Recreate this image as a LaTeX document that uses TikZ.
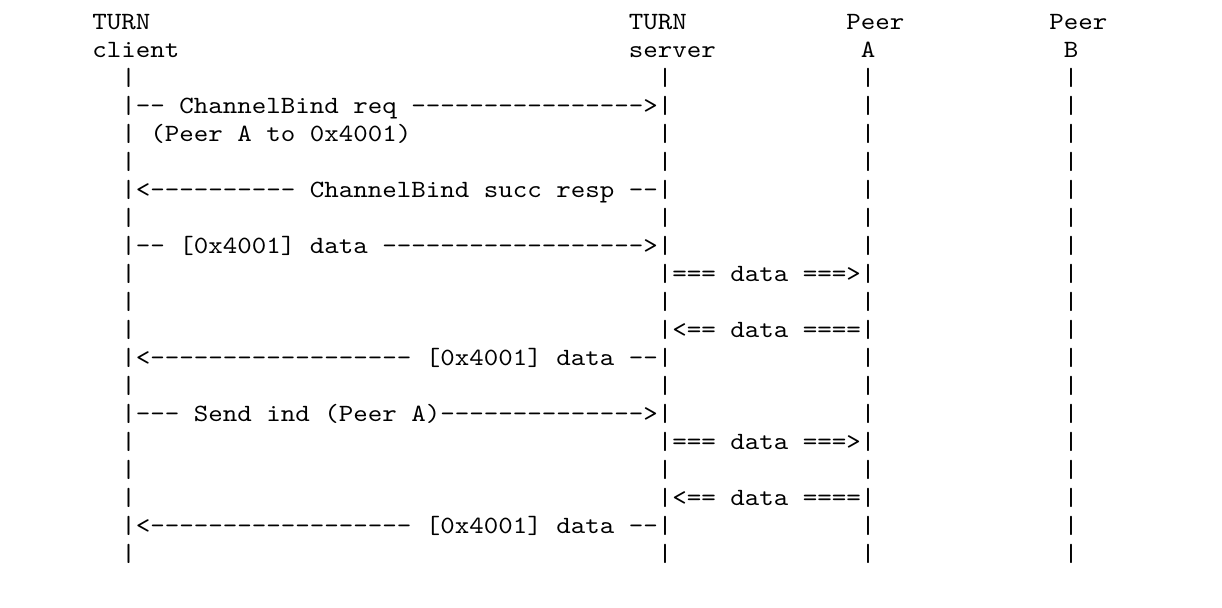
\documentclass[tikz,border=0pt]{standalone}
\usepackage{graphicx}
\usetikzlibrary{positioning}

% monospace cell, stretched to the column pitch (7.25pt)
\newcommand{\asc}[1]{%
  \edef\asccw{\the\fontcharwd\font`\x}%
  \pgfmathsetmacro{\ascx}{7.25/\asccw}%
  \scalebox{\ascx}[1.24]{\spaceskip=\asccw\relax\xspaceskip=\asccw\relax#1}}

\begin{document}
\begin{tikzpicture}[
  x=0.5pt, y=-0.5pt,
  every node/.style={font=\fontsize{10}{12}\selectfont\ttfamily, inner sep=0pt, anchor=base west},
  msg/.style={text=black},
  bar/.style={text=black}
]
  \useasboundingbox (0,0) rectangle (1222,608);

  % Intestazioni
  \node (clienttop) at (92,30)     {\asc{TURN}};
  \node (servertop) at (628.5,30)  {\asc{TURN}};
  \node (peeratop)  at (846,30)    {\asc{Peer}};
  \node (peerbtop)  at (1049,30)   {\asc{Peer}};
  \node (client)    at (92,58)     {\asc{client}};
  \node (server)    at (628.5,58)  {\asc{server}};
  \node (peera)     at (860.5,58)  {\asc{A}};
  \node (peerb)     at (1063.5,58) {\asc{B}};

  % Linee di vita
  \foreach \r in {2,...,19}
    \foreach \c/\n in {4/cl,41/sv,55/pa,69/pb}
      \node[bar] (\n\r) at ({63+14.5*\c},{30+28*\r}) {\asc{|}};

  % Messaggi
  \node[msg] (bindreq)  at (135.5,114) {\asc{-- ChannelBind req ---------------->}};
  \node[msg] (bindnote) at (150,142)   {\asc{(Peer A to 0x4001)}};
  \node[msg] (bindresp) at (135.5,198) {\asc{<---------- ChannelBind succ resp --}};
  \node[msg] (chanout)  at (135.5,254) {\asc{-- [0x4001] data ------------------>}};
  \node[msg] (relayo1)  at (672,282)   {\asc{=== data ===>}};
  \node[msg] (relayi1)  at (672,338)   {\asc{<== data ====}};
  \node[msg] (chanin1)  at (135.5,366) {\asc{<------------------ [0x4001] data --}};
  \node[msg] (sendind)  at (135.5,422) {\asc{--- Send ind (Peer A)-------------->}};
  \node[msg] (relayo2)  at (672,450)   {\asc{=== data ===>}};
  \node[msg] (relayi2)  at (672,506)   {\asc{<== data ====}};
  \node[msg] (chanin2)  at (135.5,534) {\asc{<------------------ [0x4001] data --}};

\end{tikzpicture}
\end{document}
